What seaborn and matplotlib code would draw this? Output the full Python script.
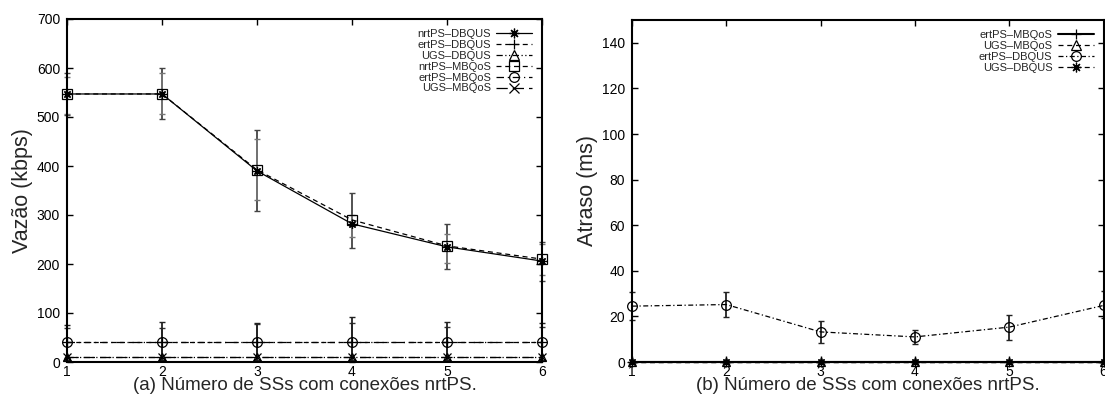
import numpy as np
import pandas as pd
import matplotlib
matplotlib.use("Agg")
import matplotlib.pyplot as plt
import seaborn as sns

sns.set_theme(style="ticks")
plt.rcParams['font.family'] = ['Liberation Sans', 'DejaVu Sans']

# ---------------- data ----------------
ss = [1, 2, 3, 4, 5, 6]

# (a) throughput (kbps)
nrtps_dbqus = [547, 547, 390, 282, 235, 206]
nrtps_dbqus_lo = [505, 495, 308, 232, 189, 165]
nrtps_dbqus_hi = [590, 600, 473, 344, 281, 245]
ertps_dbqus = [40, 40, 40, 40, 40, 40]
ertps_dbqus_lo = [8, 8, 5, 5, 5, 5]
ertps_dbqus_hi = [70, 70, 78, 80, 71, 72]
ugs_dbqus = [10, 10, 10, 10, 10, 10]
nrtps_mbqos = [547, 547, 392, 290, 237, 210]
nrtps_mbqos_lo = [507, 507, 330, 256, 203, 178]
nrtps_mbqos_hi = [581, 590, 455, 301, 262, 240]
ertps_mbqos = [40, 40, 40, 40, 40, 40]
ertps_mbqos_lo = [5, 5, 2, 0, 5, 5]
ertps_mbqos_hi = [75, 81, 80, 92, 81, 80]
ugs_mbqos = [10, 10, 10, 10, 10, 10]

# (b) delay (ms)
ertps_mbqos_d = [0, 0, 0, 0, 0, 0]
ugs_mbqos_d = [0, 0, 0, 0, 0, 0]
ertps_dbqus_d = [24.5, 25.2, 13.2, 11.0, 15.3, 24.8]
ertps_dbqus_d_lo = [18.5, 19.8, 8.4, 7.9, 9.6, 19.4]
ertps_dbqus_d_hi = [30.7, 30.6, 18.2, 14.2, 20.8, 31.0]
ugs_dbqus_d = [0, 0, 0, 0, 0, 0]

xlabel_a = "(a) Número de SSs com conexões nrtPS."
xlabel_b = "(b) Número de SSs com conexões nrtPS."

# ---------------- figure ----------------
W, H = 1105, 396
fig = plt.figure(figsize=(W / 100, H / 100), dpi=100)
axL = fig.add_axes([67 / W, 1 - 362 / H, (542 - 67) / W, (362 - 19) / H])
axR = fig.add_axes([632 / W, 1 - 362 / H, (1103.5 - 632) / W, (362 - 20) / H])

ast = (8, 2, 0)  # gnuplot-like asterisk

def series(ax, y, label, marker, ls, lo=None, hi=None, ecolor='#555555', ms=6.5, lw=0.9):
    df = pd.DataFrame({"x": ss, "y": y})
    if lo is not None:
        y = np.array(y, float)
        err = np.vstack([y - np.array(lo), np.array(hi) - y])
        ax.errorbar(ss, y, yerr=err, fmt='none', ecolor=ecolor, elinewidth=1.3,
                    capsize=2.5, capthick=1.0, zorder=2, clip_on=False)
    sns.lineplot(data=df, x="x", y="y", ax=ax, color='black', linewidth=lw,
                 linestyle=ls, marker=marker, markersize=ms,
                 markerfacecolor='none', markeredgecolor='black',
                 markeredgewidth=0.9, label=label, zorder=3, clip_on=False)

dash = (0, (4, 3))
dashdot = (0, (6, 3, 1, 3))
dashdot2 = (0, (4, 2, 1, 2))
longdash = (0, (9, 4))
dashdots = (0, (5, 2, 1, 2, 1, 2))

series(axL, nrtps_dbqus, "nrtPS\u2013DBQUS", ast, '-', nrtps_dbqus_lo, nrtps_dbqus_hi, ecolor='#444444', ms=6)
series(axL, ertps_dbqus, "ertPS\u2013DBQUS", '+', dash, ertps_dbqus_lo, ertps_dbqus_hi, ecolor='#333333')
series(axL, ugs_dbqus, "UGS\u2013DBQUS", '^', dashdots, ms=6)
series(axL, nrtps_mbqos, "nrtPS\u2013MBQoS", 's', dash, nrtps_mbqos_lo, nrtps_mbqos_hi, ecolor='#777777', ms=7)
series(axL, ertps_mbqos, "ertPS\u2013MBQoS", 'o', dashdot, ertps_mbqos_lo, ertps_mbqos_hi, ecolor='#222222', ms=7)
series(axL, ugs_mbqos, "UGS\u2013MBQoS", 'x', longdash, ms=6)

series(axR, ertps_mbqos_d, "ertPS\u2013MBQoS", '+', '-', lw=1.5)
series(axR, ugs_mbqos_d, "UGS\u2013MBQoS", '^', dash, ms=6)
series(axR, ertps_dbqus_d, "ertPS\u2013DBQUS", 'o', dashdot2, ertps_dbqus_d_lo, ertps_dbqus_d_hi, ecolor='#222222', ms=7)
series(axR, ugs_dbqus_d, "UGS\u2013DBQUS", ast, dash, ms=6)

for ax, ymax, step, ylab, xlab in [(axL, 700, 100, "Vazão (kbps)", xlabel_a),
                                   (axR, 150, 20, "Atraso (ms)", xlabel_b)]:
    ax.set_xlim(1, 6)
    ax.set_ylim(0, ymax)
    ax.set_xticks(ss)
    ax.tick_params(direction='in', length=4, width=1, top=True, right=True,
                   labelsize=10, pad=5, colors='black')
    ax.tick_params(axis='x', pad=2)
    for s in ax.spines.values():
        s.set_linewidth(1.5)
        s.set_color('black')
    ax.set_ylabel(ylab, fontsize=15.5, labelpad=3)
    ax.set_xlabel(xlab, fontsize=13.5, labelpad=-1)
    ax.set_facecolor('white')
    leg = ax.legend(loc='upper right', markerfirst=False, frameon=False,
                    fontsize=8, handlelength=3.2, handletextpad=0.5,
                    labelspacing=0.08, borderaxespad=0.5)
    for h in leg.legend_handles:
        h.set_markersize(7)

axL.set_yticks(np.arange(0, 701, 100))
axR.set_yticks(np.arange(0, 141, 20))

fig.savefig("out.png", dpi=100, facecolor='white')
